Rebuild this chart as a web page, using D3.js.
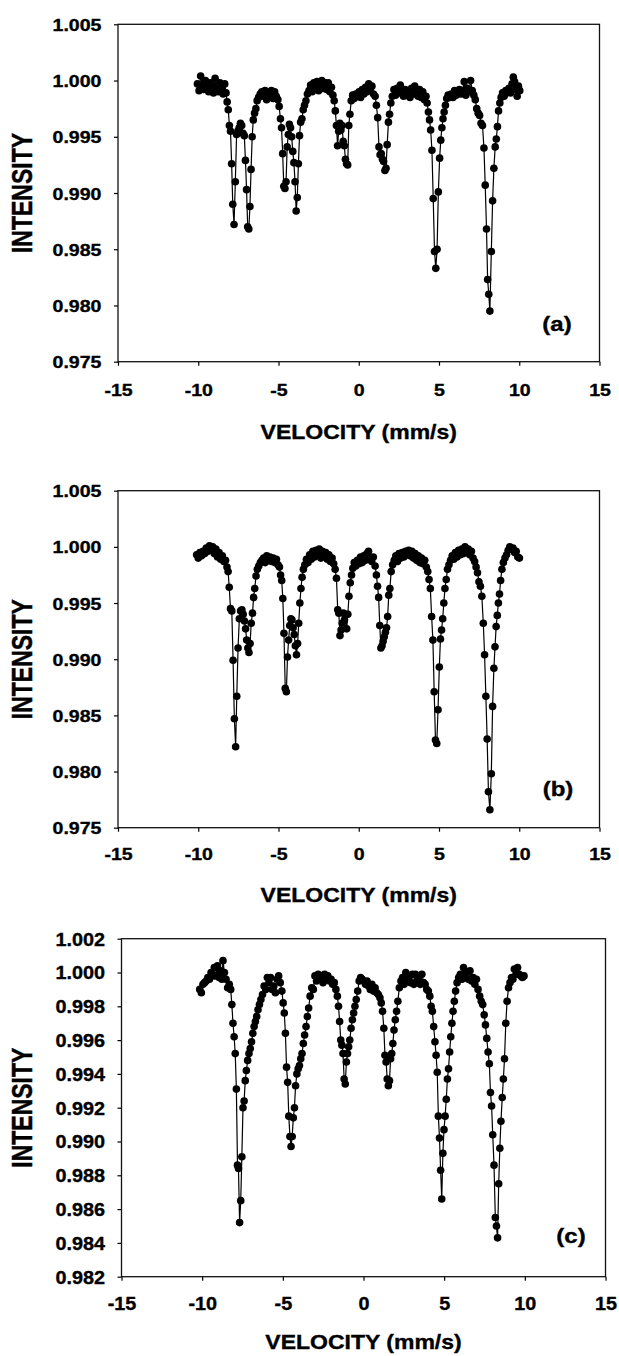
<!DOCTYPE html>
<html><head><meta charset="utf-8">
<script src="https://cdn.jsdelivr.net/npm/d3@7"></script>
<style>html,body{margin:0;padding:0;background:#fff;} svg{display:block;}</style>
</head><body>
<svg id="chart" width="619" height="1356"></svg>
<script>
const velocityTicks = [-15, -10, -5, 0, 5, 10, 15];
const intensityTicksAB = [0.975, 0.980, 0.985, 0.990, 0.995, 1.000, 1.005];
const intensityTicksC = [0.982, 0.984, 0.986, 0.988, 0.990, 0.992, 0.994, 0.996, 0.998, 1.000, 1.002];
const panelLabels = ["(a)", "(b)", "(c)"];
const xTitle = "VELOCITY (mm/s)";
const yTitle = "INTENSITY";

const spectrumA = [
[-10.05,0.9997],[-9.95,0.9991],[-9.85,1.0004],[-9.75,0.9996],[-9.65,0.9992],[-9.55,1.0000],[-9.45,0.9994],[-9.35,0.9990],[-9.25,0.9998],[-9.15,0.9993],[-9.05,0.9989],[-8.95,1.0002],[-8.85,0.9995],[-8.75,0.9990],[-8.65,0.9998],[-8.55,0.9992],[-8.45,0.9988],[-8.35,0.9997],[-8.27,0.9989],
[-8.20,0.9981],[-8.13,0.9974],[-8.06,0.9960],[-7.99,0.9955],[-7.92,0.9926],[-7.85,0.9890],[-7.77,0.9872],[-7.69,0.9910],[-7.61,0.9952],[-7.53,0.9955],[-7.45,0.9958],[-7.37,0.9962],[-7.29,0.9960],[-7.21,0.9953],[-7.13,0.9951],[-7.06,0.9929],[-6.99,0.9903],[-6.92,0.9870],[-6.85,0.9868],[-6.78,0.9888],[-6.71,0.9921],[-6.64,0.9950],[-6.57,0.9965],[-6.49,0.9971],[-6.41,0.9975],[-6.33,0.9982],[-6.24,0.9985],[-6.14,0.9988],[-6.04,0.9990],[-5.94,0.9986],[-5.84,0.9991],[-5.74,0.9983],[-5.64,0.9989],[-5.54,0.9986],[-5.44,0.9991],[-5.34,0.9984],[-5.24,0.9990],[-5.14,0.9986],[-5.04,0.9983],
[-4.96,0.9977],[-4.88,0.9966],[-4.81,0.9958],[-4.74,0.9935],[-4.67,0.9906],[-4.60,0.9904],[-4.53,0.9910],[-4.46,0.9941],[-4.39,0.9952],[-4.32,0.9961],[-4.25,0.9958],[-4.18,0.9950],[-4.11,0.9937],[-4.04,0.9927],[-3.97,0.9910],[-3.90,0.9884],[-3.83,0.9896],[-3.76,0.9926],[-3.69,0.9951],[-3.62,0.9963],[-3.54,0.9966],[-3.46,0.9974],[-3.38,0.9978],[-3.29,0.9982],[-3.20,0.9988],[-3.10,0.9991],
[-3.00,0.9996],[-2.90,0.9990],[-2.80,0.9998],[-2.70,0.9993],[-2.60,0.9999],[-2.50,0.9991],[-2.40,0.9997],[-2.30,1.0000],[-2.20,0.9993],[-2.10,0.9998],[-2.00,0.9992],[-1.90,0.9998],[-1.80,0.9990],[-1.70,0.9994],[-1.61,0.9987],[-1.53,0.9982],[-1.46,0.9973],[-1.39,0.9960],[-1.32,0.9942],[-1.25,0.9955],[-1.18,0.9962],[-1.11,0.9956],[-1.04,0.9960],[-0.97,0.9946],[-0.90,0.9942],[-0.83,0.9930],[-0.76,0.9926],[-0.69,0.9925],[-0.62,0.9960],[-0.55,0.9970],[-0.47,0.9982],[-0.38,0.9987],[-0.28,0.9984],[-0.18,0.9988],[-0.08,0.9986],
[0.02,0.9990],[0.12,0.9985],[0.22,0.9992],[0.32,0.9988],[0.42,0.9994],[0.52,0.9990],[0.62,0.9997],[0.72,0.9993],[0.82,0.9995],[0.92,0.9988],[1.02,0.9986],[1.10,0.9978],[1.18,0.9967],[1.26,0.9941],[1.33,0.9934],[1.40,0.9935],[1.48,0.9930],[1.55,0.9928],[1.63,0.9920],[1.70,0.9922],[1.77,0.9943],[1.85,0.9963],[1.92,0.9970],[2.00,0.9980],[2.09,0.9986],[2.19,0.9992],[2.29,0.9987],[2.39,0.9993],[2.49,0.9989],[2.59,0.9996],[2.69,0.9990],[2.79,0.9986],[2.89,0.9992],[2.99,0.9987],[3.09,0.9991],[3.19,0.9985],[3.29,0.9993],[3.39,0.9988],[3.49,0.9995],[3.59,0.9990],[3.69,0.9986],[3.79,0.9992],[3.89,0.9985],[3.99,0.9990],[4.09,0.9983],[4.19,0.9986],[4.26,0.9980],
[4.34,0.9972],[4.41,0.9965],[4.48,0.9956],[4.56,0.9938],[4.64,0.9895],[4.72,0.9848],[4.80,0.9833],[4.88,0.9850],[4.96,0.9901],[5.04,0.9931],[5.11,0.9947],[5.18,0.9958],[5.25,0.9966],[5.32,0.9972],[5.40,0.9978],[5.48,0.9984],[5.57,0.9987],[5.67,0.9985],[5.77,0.9988],[5.87,0.9985],[5.97,0.9991],[6.07,0.9987],[6.17,0.9990],[6.27,0.9992],[6.37,0.9988],[6.47,0.9991],[6.57,0.9999],[6.67,0.9987],[6.77,0.9993],[6.87,0.9990],[6.97,1.0000],[7.07,0.9991],[7.17,0.9987],[7.26,0.9983],[7.35,0.9975],[7.44,0.9971],[7.53,0.9969],[7.62,0.9962],[7.71,0.9960],
[7.80,0.9940],[7.88,0.9907],[7.96,0.9868],[8.03,0.9823],[8.10,0.9810],[8.17,0.9795],[8.26,0.9848],[8.34,0.9893],[8.42,0.9922],[8.50,0.9941],[8.57,0.9948],[8.64,0.9959],[8.71,0.9973],[8.79,0.9980],[8.87,0.9985],[8.96,0.9989],[9.06,0.9986],[9.16,0.9991],[9.26,0.9990],[9.36,0.9993],[9.46,0.9989],[9.55,0.9997],[9.63,1.0003],[9.71,0.9999],[9.79,0.9992],[9.87,0.9986],[9.95,0.9995],[10.03,0.9991]
];

const spectrumB = [
[-10.10,0.9993],[-10.00,0.9990],[-9.90,0.9995],[-9.80,0.9992],[-9.70,0.9996],[-9.60,0.9994],[-9.50,0.9999],[-9.40,0.9996],[-9.30,1.0001],[-9.20,0.9997],[-9.10,1.0000],[-9.00,0.9994],[-8.90,0.9998],[-8.80,0.9991],[-8.70,0.9995],[-8.60,0.9989],[-8.50,0.9992],[-8.40,0.9987],[-8.30,0.9988],
[-8.21,0.9982],[-8.14,0.9978],[-8.07,0.9964],[-7.99,0.9945],[-7.91,0.9943],[-7.83,0.9899],[-7.75,0.9847],[-7.67,0.9822],[-7.60,0.9867],[-7.52,0.9910],[-7.44,0.9936],[-7.36,0.9943],[-7.28,0.9944],[-7.20,0.9940],[-7.12,0.9934],[-7.05,0.9927],[-6.98,0.9917],[-6.91,0.9910],[-6.84,0.9906],[-6.77,0.9914],[-6.70,0.9932],[-6.62,0.9941],[-6.55,0.9955],[-6.48,0.9963],[-6.40,0.9974],[-6.32,0.9980],[-6.23,0.9983],[-6.13,0.9986],[-6.03,0.9988],[-5.93,0.9990],[-5.83,0.9986],[-5.73,0.9992],[-5.63,0.9988],[-5.53,0.9991],[-5.43,0.9987],[-5.33,0.9990],[-5.23,0.9986],[-5.13,0.9989],[-5.03,0.9984],[-4.94,0.9982],[-4.87,0.9975],
[-4.80,0.9970],[-4.73,0.9954],[-4.66,0.9923],[-4.58,0.9874],[-4.51,0.9871],[-4.44,0.9902],[-4.37,0.9917],[-4.30,0.9930],[-4.23,0.9936],[-4.16,0.9935],[-4.09,0.9928],[-4.02,0.9922],[-3.95,0.9912],[-3.88,0.9904],[-3.81,0.9914],[-3.74,0.9932],[-3.67,0.9950],[-3.60,0.9963],[-3.53,0.9973],[-3.45,0.9980],[-3.36,0.9984],[-3.26,0.9989],[-3.16,0.9986],[-3.06,0.9993],[-2.96,0.9989],[-2.86,0.9996],[-2.76,0.9991],[-2.66,0.9997],[-2.56,0.9993],[-2.46,0.9998],[-2.36,0.9990],[-2.26,0.9996],[-2.16,0.9992],[-2.06,0.9995],[-1.96,0.9989],[-1.86,0.9993],[-1.76,0.9987],[-1.66,0.9990],[-1.56,0.9985],
[-1.47,0.9980],[-1.39,0.9972],[-1.31,0.9944],[-1.24,0.9941],[-1.17,0.9921],[-1.10,0.9926],[-1.03,0.9932],[-0.96,0.9941],[-0.89,0.9935],[-0.82,0.9940],[-0.75,0.9927],[-0.68,0.9940],[-0.61,0.9956],[-0.53,0.9968],[-0.45,0.9975],[-0.37,0.9981],[-0.28,0.9986],[-0.19,0.9983],[-0.09,0.9988],[0.01,0.9985],[0.11,0.9991],[0.21,0.9986],[0.31,0.9992],[0.41,0.9988],[0.51,0.9994],[0.61,0.9996],[0.71,0.9990],[0.81,0.9987],[0.91,0.9991],
[1.02,0.9983],[1.10,0.9975],[1.17,0.9965],[1.24,0.9955],[1.31,0.9930],[1.38,0.9910],[1.45,0.9912],[1.52,0.9916],[1.59,0.9920],[1.66,0.9924],[1.73,0.9928],[1.80,0.9938],[1.87,0.9957],[1.94,0.9963],[2.02,0.9978],[2.11,0.9984],[2.21,0.9988],[2.31,0.9992],[2.41,0.9987],[2.51,0.9994],[2.61,0.9990],[2.71,0.9995],[2.81,0.9991],[2.91,0.9996],[3.01,0.9993],[3.11,0.9997],[3.21,0.9992],[3.31,0.9996],[3.41,0.9990],[3.51,0.9994],[3.61,0.9988],[3.71,0.9992],[3.81,0.9986],[3.91,0.9990],[4.01,0.9985],[4.11,0.9988],[4.21,0.9982],
[4.30,0.9978],[4.38,0.9971],[4.46,0.9963],[4.54,0.9938],[4.62,0.9917],[4.70,0.9871],[4.78,0.9828],[4.86,0.9825],[4.94,0.9855],[5.02,0.9893],[5.09,0.9918],[5.16,0.9926],[5.23,0.9936],[5.30,0.9950],[5.37,0.9963],[5.45,0.9971],[5.53,0.9980],[5.62,0.9984],[5.72,0.9988],[5.82,0.9992],[5.92,0.9989],[6.02,0.9995],[6.12,0.9991],[6.22,0.9997],[6.32,0.9993],[6.42,0.9998],[6.52,0.9994],[6.62,1.0000],[6.72,0.9995],[6.82,0.9998],[6.92,0.9993],[7.02,0.9996],[7.12,0.9990],[7.22,0.9987],[7.31,0.9982],[7.40,0.9977],[7.49,0.9969],[7.58,0.9965],[7.67,0.9956],
[7.76,0.9932],[7.84,0.9904],[7.92,0.9867],[8.00,0.9829],[8.08,0.9782],[8.17,0.9766],[8.26,0.9798],[8.34,0.9858],[8.42,0.9892],[8.49,0.9911],[8.56,0.9929],[8.63,0.9939],[8.70,0.9950],[8.77,0.9958],[8.84,0.9970],[8.92,0.9980],[9.01,0.9986],[9.11,0.9990],[9.21,0.9993],[9.31,0.9997],[9.41,1.0000],[9.51,0.9998],[9.61,0.9999],[9.71,0.9995],[9.81,0.9996],[9.91,0.9991],[10.01,0.9990]
];

const spectrumC = [
[-10.15,0.9990],[-10.05,0.9988],[-9.95,0.9993],[-9.85,0.9994],[-9.75,0.9995],[-9.65,0.9997],[-9.55,0.9996],[-9.45,1.0000],[-9.35,0.9998],[-9.25,1.0003],[-9.15,0.9998],[-9.05,1.0004],[-8.95,0.9997],[-8.85,1.0001],[-8.78,0.9996],[-8.71,1.0007],[-8.62,1.0000],[-8.52,0.9996],[-8.42,0.9991],[-8.32,0.9993],[-8.23,0.9990],
[-8.16,0.9981],[-8.09,0.9970],[-8.02,0.9962],[-7.95,0.9952],[-7.88,0.9931],[-7.81,0.9886],[-7.75,0.9884],[-7.68,0.9852],[-7.61,0.9865],[-7.54,0.9891],[-7.47,0.9920],[-7.40,0.9924],[-7.33,0.9936],[-7.26,0.9942],[-7.18,0.9948],[-7.10,0.9952],[-7.02,0.9955],[-6.94,0.9959],[-6.86,0.9964],[-6.78,0.9968],[-6.70,0.9971],[-6.62,0.9974],[-6.54,0.9978],[-6.45,0.9981],[-6.36,0.9984],[-6.26,0.9987],[-6.16,0.9992],[-6.06,0.9990],[-5.96,0.9997],[-5.86,0.9994],[-5.76,0.9997],[-5.66,0.9990],[-5.56,0.9992],[-5.46,0.9988],[-5.36,0.9996],[-5.26,0.9998],[-5.16,0.9994],[-5.06,0.9989],
[-4.98,0.9982],[-4.91,0.9976],[-4.84,0.9964],[-4.77,0.9944],[-4.70,0.9935],[-4.63,0.9915],[-4.56,0.9903],[-4.49,0.9897],[-4.42,0.9903],[-4.35,0.9914],[-4.28,0.9920],[-4.21,0.9933],[-4.13,0.9940],[-4.05,0.9943],[-3.97,0.9945],[-3.89,0.9949],[-3.81,0.9952],[-3.73,0.9958],[-3.65,0.9963],[-3.56,0.9968],[-3.48,0.9974],[-3.40,0.9979],[-3.31,0.9986],[-3.21,0.9991],[-3.11,0.9990],[-3.01,0.9998],[-2.91,0.9995],[-2.81,0.9999],[-2.71,0.9996],[-2.61,0.9998],[-2.51,0.9994],[-2.41,0.9999],[-2.31,0.9996],[-2.21,0.9998],[-2.11,0.9995],[-2.01,0.9996],[-1.91,0.9993],[-1.81,0.9994],[-1.71,0.9990],
[-1.62,0.9986],[-1.55,0.9980],[-1.48,0.9971],[-1.41,0.9960],[-1.34,0.9957],[-1.27,0.9952],[-1.20,0.9937],[-1.13,0.9934],[-1.06,0.9947],[-0.99,0.9952],[-0.92,0.9956],[-0.85,0.9960],[-0.77,0.9967],[-0.69,0.9972],[-0.61,0.9976],[-0.53,0.9980],[-0.45,0.9984],[-0.36,0.9989],[-0.27,0.9995],[-0.18,0.9997],[-0.08,0.9996],[0.02,0.9995],[0.12,0.9993],[0.22,0.9995],[0.32,0.9992],[0.42,0.9990],[0.52,0.9993],[0.62,0.9989],[0.72,0.9991],[0.82,0.9988],[0.92,0.9987],
[1.02,0.9985],[1.10,0.9982],[1.18,0.9977],[1.26,0.9967],[1.33,0.9951],[1.40,0.9947],[1.47,0.9937],[1.54,0.9933],[1.61,0.9936],[1.68,0.9949],[1.75,0.9952],[1.82,0.9958],[1.89,0.9966],[1.97,0.9972],[2.05,0.9977],[2.13,0.9983],[2.22,0.9991],[2.32,0.9995],[2.42,0.9997],[2.52,0.9993],[2.62,1.0000],[2.72,0.9995],[2.82,0.9998],[2.92,0.9994],[3.02,0.9999],[3.12,0.9993],[3.22,0.9999],[3.32,0.9995],[3.42,0.9996],[3.52,0.9993],[3.62,0.9999],[3.72,0.9994],[3.82,0.9993],[3.92,0.9990],[4.02,0.9989],[4.11,0.9986],[4.19,0.9980],
[4.27,0.9977],[4.35,0.9968],[4.43,0.9959],[4.50,0.9951],[4.57,0.9941],[4.64,0.9915],[4.71,0.9902],[4.78,0.9883],[4.85,0.9866],[4.92,0.9893],[4.99,0.9907],[5.06,0.9915],[5.13,0.9925],[5.20,0.9937],[5.27,0.9943],[5.34,0.9953],[5.41,0.9962],[5.48,0.9970],[5.55,0.9977],[5.63,0.9983],[5.71,0.9989],[5.80,0.9994],[5.90,0.9997],[6.00,0.9999],[6.10,0.9996],[6.20,1.0003],[6.30,0.9997],[6.40,1.0000],[6.50,0.9996],[6.60,1.0001],[6.70,0.9995],[6.80,0.9997],[6.90,0.9993],[7.00,0.9996],[7.10,0.9990],[7.20,0.9986],[7.30,0.9983],
[7.39,0.9981],[7.48,0.9975],[7.56,0.9969],[7.64,0.9961],[7.72,0.9953],[7.80,0.9946],[7.87,0.9929],[7.94,0.9921],[8.01,0.9904],[8.09,0.9886],[8.17,0.9855],[8.24,0.9850],[8.31,0.9843],[8.38,0.9875],[8.45,0.9896],[8.52,0.9912],[8.60,0.9926],[8.67,0.9937],[8.74,0.9949],[8.82,0.9970],[8.90,0.9983],[8.99,0.9991],[9.08,0.9994],[9.17,0.9997],[9.26,0.9996],[9.35,1.0002],[9.45,0.9999],[9.55,1.0003],[9.65,0.9999],[9.75,0.9998],[9.85,0.9997],[9.95,0.9998]
];

const FONT = "'Liberation Sans', Arial, Helvetica, sans-serif";

const panels = [
  {data: spectrumA, yTicks: intensityTicksAB, label: panelLabels[0],
   left: 118, right: 599.5, top: 24.3, bottom: 361.7,
   tickFont: 17, tickSX: 1.15, xLabelDY: 34, titleY: 438.5, tagX: 557, tagY: 331},
  {data: spectrumB, yTicks: intensityTicksAB, label: panelLabels[1],
   left: 118, right: 599.5, top: 490.7, bottom: 827.7,
   tickFont: 17, tickSX: 1.15, xLabelDY: 32, titleY: 902, tagX: 558, tagY: 796},
  {data: spectrumC, yTicks: intensityTicksC, label: panelLabels[2],
   left: 121.5, right: 605.5, top: 938.7, bottom: 1276.7,
   tickFont: 18, tickSX: 1.1, xLabelDY: 33.5, titleY: 1349, tagX: 571, tagY: 1242.5}
];

const svg = d3.select("#chart");
svg.append("rect").attr("width", 619).attr("height", 1356).attr("fill", "#fff");

function boldText(sel, size) {
  return sel.attr("font-family", FONT).attr("font-weight", "bold").attr("font-size", size)
    .attr("fill", "#000").attr("stroke", "#000").attr("stroke-width", 0.35);
}

panels.forEach(p => {
  const g = svg.append("g");
  const x = d3.scaleLinear().domain(d3.extent(velocityTicks)).range([p.left, p.right]);
  const y = d3.scaleLinear().domain(d3.extent(p.yTicks)).range([p.bottom, p.top]);

  // y axis
  const gy = g.append("g").attr("transform", `translate(${p.left},0)`)
    .call(d3.axisLeft(y).tickValues(p.yTicks).tickSize(4).tickFormat(d3.format(".3f")));
  gy.select(".domain").remove();
  gy.selectAll(".tick line").attr("stroke", "#000").attr("stroke-width", 1.2);
  boldText(gy.selectAll(".tick text"), p.tickFont)
    .attr("x", 0).attr("dy", null)
    .attr("transform", `translate(-16.6,${0.358 * p.tickFont}) scale(${p.tickSX},1)`)
    .attr("text-anchor", "end");

  // x axis (hyphen-minus labels as in the original)
  const gx = g.append("g").attr("transform", `translate(0,${p.bottom})`)
    .call(d3.axisBottom(x).tickValues(velocityTicks).tickSize(4).tickFormat(d => String(d)));
  gx.select(".domain").remove();
  gx.selectAll(".tick line").attr("stroke", "#000").attr("stroke-width", 1.2);
  boldText(gx.selectAll(".tick text"), p.tickFont)
    .attr("y", 0).attr("dy", null)
    .attr("transform", `translate(0,${p.xLabelDY}) scale(${p.tickSX},1)`)
    .attr("text-anchor", "middle");

  // frame
  g.append("rect")
    .attr("x", p.left).attr("y", p.top)
    .attr("width", p.right - p.left).attr("height", p.bottom - p.top)
    .attr("fill", "none").attr("stroke", "#111").attr("stroke-width", 1.3);

  // series line
  const line = d3.line().x(d => x(d[0])).y(d => y(d[1]));
  g.append("path").datum(p.data)
    .attr("d", line).attr("fill", "none").attr("stroke", "#000").attr("stroke-width", 1.2);

  // markers
  g.append("g").selectAll("circle").data(p.data).join("circle")
    .attr("cx", d => x(d[0])).attr("cy", d => y(d[1])).attr("r", 3.8).attr("fill", "#000");

  // y title
  const cy = (p.top + p.bottom) / 2;
  boldText(g.append("text").text(yTitle), 23)
    .attr("transform", `translate(31.7,${cy}) scale(1.3,1) rotate(-90)`)
    .attr("text-anchor", "middle");

  // x title
  boldText(g.append("text").text(xTitle), 19.5)
    .attr("transform", `translate(${(p.left + p.right) / 2},${p.titleY}) scale(1.18,1)`)
    .attr("text-anchor", "middle");

  // panel tag
  boldText(g.append("text").text(p.label), 20)
    .attr("transform", `translate(${p.tagX},${p.tagY}) scale(1.2,1)`)
    .attr("text-anchor", "middle");
});
</script>
</body></html>
